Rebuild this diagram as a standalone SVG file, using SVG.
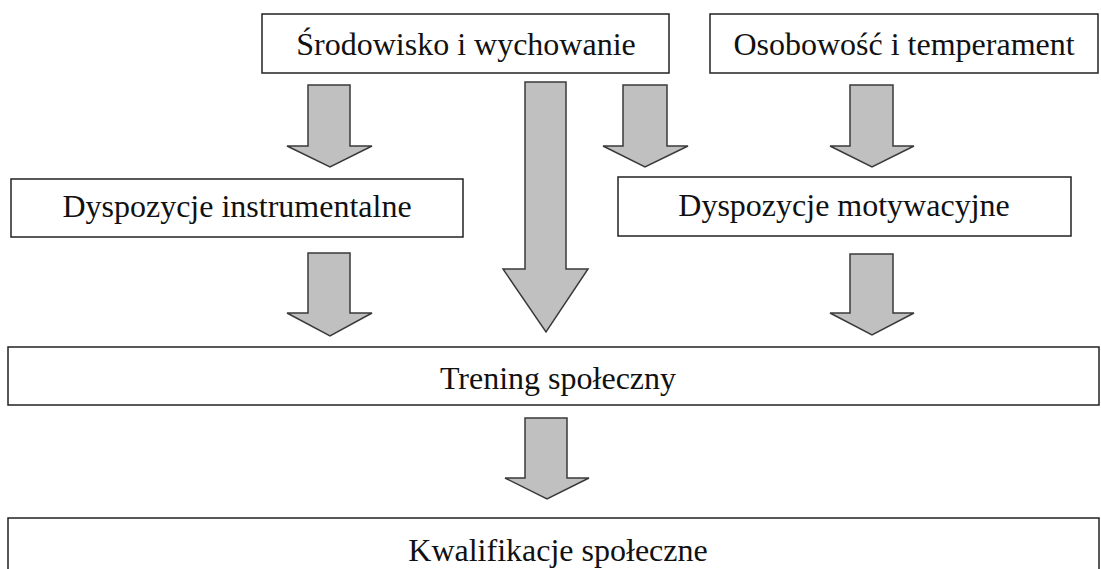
<svg xmlns="http://www.w3.org/2000/svg" width="1101" height="569" viewBox="0 0 1101 569">
<style>
.box{fill:#fff;stroke:#222;stroke-width:1.5}
.lbl{font-family:"Liberation Serif","Times New Roman",serif;font-size:32px;fill:#111;text-anchor:middle}
.arr{fill:#c0c0c0;stroke:#3a3a3a;stroke-width:1.5;stroke-linejoin:miter}
</style>
<rect width="1101" height="569" fill="#fff"/>
<g id="connectors">
<polygon class="arr" points="308,85 350,85 350,146 372,146 330,167 287,146 308,146"/>
<polygon class="arr" points="623,85 667,85 667,146 688,146 645,167 603,146 623,146"/>
<polygon class="arr" points="850,85 893,85 893,146 914,146 872,167 830,146 850,146"/>
<polygon class="arr" points="525,82 566,82 566,269 588,269 546,332 503,269 525,269"/>
<polygon class="arr" points="308,253 350,253 350,313 372,313 330,336 287,313 308,313"/>
<polygon class="arr" points="850,254 893,254 893,313 914,313 872,335 830,313 850,313"/>
<polygon class="arr" points="525,418 567,418 567,478 589,478 547,499 505,478 525,478"/>
</g>
<g id="n1"><rect class="box" x="262" y="14" width="407" height="59"/><text class="lbl" x="466" y="55">Środowisko i wychowanie</text></g>
<g id="n2"><rect class="box" x="710" y="14" width="388" height="59"/><text class="lbl" x="904" y="55">Osobowość i temperament</text></g>
<g id="n3"><rect class="box" x="11" y="179" width="452" height="58"/><text class="lbl" x="237" y="217">Dyspozycje instrumentalne</text></g>
<g id="n4"><rect class="box" x="618" y="177" width="453" height="59"/><text class="lbl" x="844" y="216">Dyspozycje motywacyjne</text></g>
<g id="n5"><rect class="box" x="8" y="347" width="1091" height="58"/><text class="lbl" x="558" y="389">Trening społeczny</text></g>
<g id="n6"><rect class="box" x="8" y="518" width="1091" height="70"/><text class="lbl" x="558" y="561">Kwalifikacje społeczne</text></g>
</svg>
